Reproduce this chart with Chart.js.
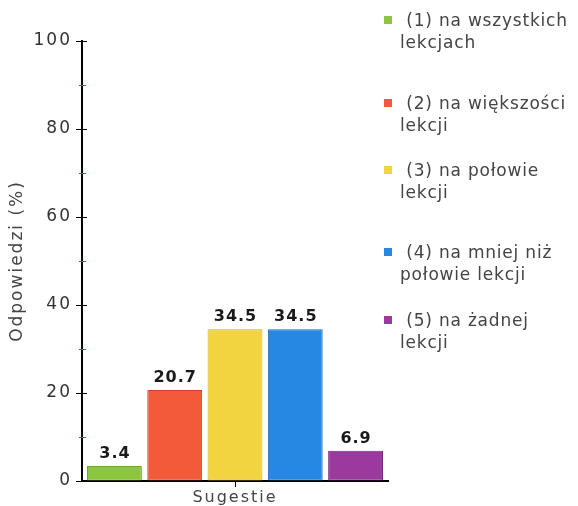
<!DOCTYPE html>
<html>
<head>
<meta charset="utf-8">
<script src="https://cdn.jsdelivr.net/npm/chart.js@4.4.1/dist/chart.umd.min.js"></script>
<style>
    body { margin: 0; background: #fff; }
    #wrap { position: relative; width: 578px; height: 506px; }
    #legend { position: absolute; left: 0; top: 0; font-family: "DejaVu Sans", Verdana, sans-serif; font-size: 17px; letter-spacing: 0.8px; color: #444; }
    .leg-item { position: absolute; left: 384px; width: 194px; line-height: 22px; white-space: nowrap; }
    .leg-box { position: absolute; left: 0; top: 7px; width: 8px; height: 8px; }
    .leg-line { padding-left: 16px; }
</style>
</head>
<body>
<div id="wrap">
    <canvas id="chart" width="578" height="506"></canvas>
    <div id="legend"></div>
</div>
<script>
const categories = ['Sugestie'];
const seriesNames = [
    ['(1) na wszystkich', 'lekcjach'],
    ['(2) na większości', 'lekcji'],
    ['(3) na połowie', 'lekcji'],
    ['(4) na mniej niż', 'połowie lekcji'],
    ['(5) na żadnej', 'lekcji']
];
const seriesValues = [3.4, 20.7, 34.5, 34.5, 6.9];
const yTicks = [0, 20, 40, 60, 80, 100];

const fillColors = ['#8cc63e', '#f25a3a', '#f2d440', '#2688e2', '#9a3a9e'];
const borderColors = ['#6fa52c', '#c8402a', '#c9ab2e', '#1c6cbc', '#73287a'];
// legend rows are not evenly spaced in the original
const legendTops = [9, 92, 159, 241, 309];

const FONT = '"DejaVu Sans", Verdana, sans-serif';

const datasets = seriesValues.map((v, i) => ({
    label: seriesNames[i].join(' '),
    data: [v],
    backgroundColor: fillColors[i],
    borderColor: borderColors[i],
    borderWidth: 1,
    borderSkipped: false,
    categoryPercentage: 0.985,
    barPercentage: 0.91
}));

// the original text is drawn with loose letter spacing
const spacing = {
    id: 'spacing',
    beforeDraw(chart) { chart.ctx.letterSpacing = '2px'; }
};

// values above the bars
const valueLabels = {
    id: 'valueLabels',
    afterDatasetsDraw(chart) {
        const ctx = chart.ctx;
        ctx.save();
        ctx.letterSpacing = '1px';
        ctx.font = 'bold 16px ' + FONT;
        ctx.fillStyle = '#1a1a1a';
        ctx.textAlign = 'center';
        ctx.textBaseline = 'bottom';
        chart.data.datasets.forEach((ds, i) => {
            const bar = chart.getDatasetMeta(i).data[0];
            ctx.fillText(ds.data[0].toFixed(1), bar.x + 0.5, bar.y - 4);
        });
        ctx.restore();
    }
};

// minor red ticks + right stubs of major ticks on the y axis
const axisTicks = {
    id: 'axisTicks',
    afterDraw(chart) {
        const ctx = chart.ctx;
        const y = chart.scales.y;
        const x0 = chart.chartArea.left;
        ctx.save();
        ctx.lineWidth = 1;
        for (let v = 10; v < 100; v += 20) {
            const py = Math.round(y.getPixelForValue(v)) + 0.5;
            ctx.strokeStyle = '#ec2a14';
            ctx.beginPath();
            ctx.moveTo(x0 - 3, py);
            ctx.lineTo(x0 + 4, py);
            ctx.stroke();
        }
        yTicks.forEach(v => {
            if (v === 0) return;
            const py = Math.round(y.getPixelForValue(v)) + 0.5;
            ctx.strokeStyle = '#000';
            ctx.beginPath();
            ctx.moveTo(x0, py);
            ctx.lineTo(x0 + 5, py);
            ctx.stroke();
        });
        ctx.restore();
    }
};

new Chart(document.getElementById('chart'), {
    type: 'bar',
    data: { labels: categories, datasets: datasets },
    options: {
        responsive: false,
        animation: false,
        layout: { padding: { top: 41, right: 190, left: 0, bottom: 0 } },
        plugins: {
            legend: { display: false },
            tooltip: { enabled: false }
        },
        scales: {
            x: {
                afterFit(scale) { scale.height = 25; },
                grid: { display: true, drawOnChartArea: false, offset: false, tickLength: 6, color: '#000', lineWidth: 1 },
                border: { display: true, color: '#000', width: 2 },
                ticks: { color: '#444', padding: 1, font: { family: FONT, size: 16 } }
            },
            y: {
                min: 0,
                max: 100,
                afterFit(scale) { scale.width = 82; },
                afterBuildTicks(scale) { scale.ticks = yTicks.map(v => ({ value: v })); },
                grid: { drawOnChartArea: false, tickLength: 6, color: '#000', lineWidth: 1 },
                border: { display: true, color: '#000', width: 2 },
                ticks: { color: '#333', padding: 4, font: { family: FONT, size: 17 } },
                title: {
                    display: true,
                    text: 'Odpowiedzi (%)',
                    color: '#444',
                    padding: { top: 7, bottom: 0 },
                    font: { family: FONT, size: 17 }
                }
            }
        }
    },
    plugins: [spacing, valueLabels, axisTicks]
});

// html legend with two-line labels
const legend = document.getElementById('legend');
seriesNames.forEach((lines, i) => {
    const item = document.createElement('div');
    item.className = 'leg-item';
    item.style.top = legendTops[i] + 'px';
    item.innerHTML = `<span class="leg-box" style="background:${fillColors[i]}"></span>` +
        `<div class="leg-line">&nbsp;${lines[0]}</div><div class="leg-line">${lines[1]}</div>`;
    legend.appendChild(item);
});
</script>
</body>
</html>
